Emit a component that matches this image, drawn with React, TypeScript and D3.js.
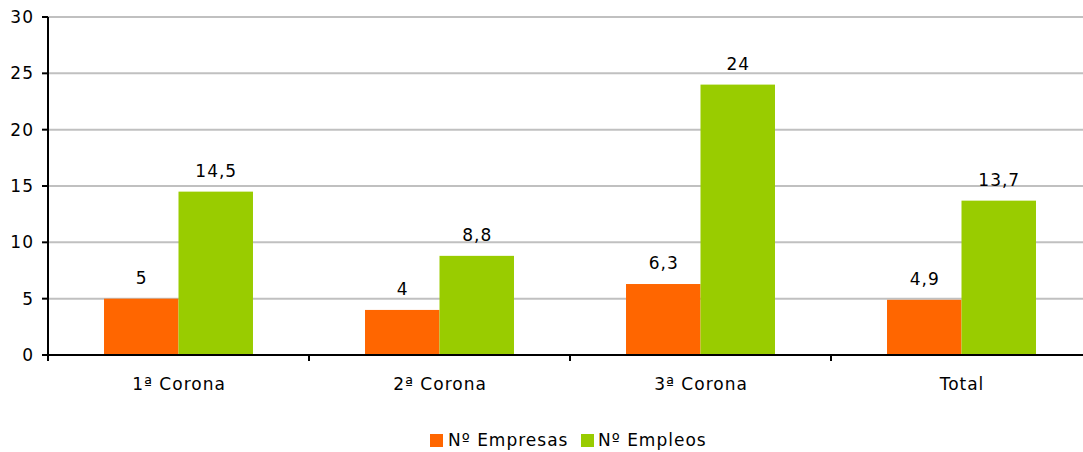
import React from "react";
import * as d3 from "d3";

const categories = ["1ª Corona", "2ª Corona", "3ª Corona", "Total"];
const seriesNames = ["Nº Empresas", "Nº Empleos"];
const empresas = [5, 4, 6.3, 4.9];
const empleos = [14.5, 8.8, 24, 13.7];
const valueLabels = [
  ["5", "4", "6,3", "4,9"],
  ["14,5", "8,8", "24", "13,7"],
];
const yTicks = [0, 5, 10, 15, 20, 25, 30];
const colors = ["#ff6600", "#99cc00"];

const W = 1083;
const H = 452;
const FONT = "Verdana, 'DejaVu Sans', sans-serif";
const FS = 17;
const LS = 1;

export default function App() {
  const left = 48;
  const right = 1092;
  const top = 17;
  const bottom = 355;
  const x0 = d3.scaleBand<string>().domain(categories).range([left, right]).paddingInner(0).paddingOuter(0);
  const x1 = d3
    .scaleBand<string>()
    .domain(seriesNames)
    .range([0, x0.bandwidth()])
    .paddingInner(0)
    .paddingOuter(0.752);
  const y = d3.scaleLinear().domain([0, 30]).range([bottom, top]);
  const series = [empresas, empleos];

  const txt = { fontFamily: FONT, fontSize: FS, letterSpacing: LS, fill: "#000" };

  return (
    <svg width={W} height={H} style={{ position: "absolute", left: 0, top: 0, background: "#fff" }}>
      <rect x={0} y={0} width={W} height={H} fill="#fff" />
      {yTicks.map((t) =>
        t === 0 ? null : (
          <line key={"g" + t} x1={left} x2={right} y1={y(t)} y2={y(t)} stroke="#c0c0c0" strokeWidth={2} />
        )
      )}
      {series.map((vals, si) =>
        vals.map((v, ci) => (
          <rect
            key={si + "-" + ci}
            x={(x0(categories[ci]) as number) + (x1(seriesNames[si]) as number)}
            y={y(v)}
            width={x1.bandwidth()}
            height={y(0) - y(v)}
            fill={colors[si]}
          />
        ))
      )}
      {series.map((vals, si) =>
        vals.map((v, ci) => (
          <text
            key={"l" + si + "-" + ci}
            x={(x0(categories[ci]) as number) + (x1(seriesNames[si]) as number) + x1.bandwidth() / 2 + LS / 2}
            y={y(v) - 15}
            textAnchor="middle"
            {...txt}
          >
            {valueLabels[si][ci]}
          </text>
        ))
      )}
      {/* y axis */}
      <line x1={left} x2={left} y1={top} y2={bottom} stroke="#000" strokeWidth={2} />
      {yTicks.map((t) => (
        <g key={"yt" + t}>
          <line x1={left - 6} x2={left} y1={y(t)} y2={y(t)} stroke="#000" strokeWidth={2} />
          <text x={33 + LS} y={y(t) + 6} textAnchor="end" {...txt}>
            {t}
          </text>
        </g>
      ))}
      {/* x axis */}
      <line x1={left - 6} x2={right} y1={bottom} y2={bottom} stroke="#000" strokeWidth={2} />
      {categories.map((c, i) => (
        <line
          key={"xt" + i}
          x1={x0(c) as number}
          x2={x0(c) as number}
          y1={bottom}
          y2={bottom + 6}
          stroke="#000"
          strokeWidth={2}
        />
      ))}
      {categories.map((c) => (
        <text
          key={"xl" + c}
          x={(x0(c) as number) + x0.bandwidth() / 2 + LS / 2}
          y={390}
          textAnchor="middle"
          {...txt}
        >
          {c}
        </text>
      ))}
      {/* legend */}
      <rect x={430} y={434} width={13} height={13} fill={colors[0]} />
      <text x={448} y={446} {...txt}>
        {seriesNames[0]}
      </text>
      <rect x={581} y={434} width={13} height={13} fill={colors[1]} />
      <text x={598} y={446} {...txt}>
        {seriesNames[1]}
      </text>
    </svg>
  );
}
